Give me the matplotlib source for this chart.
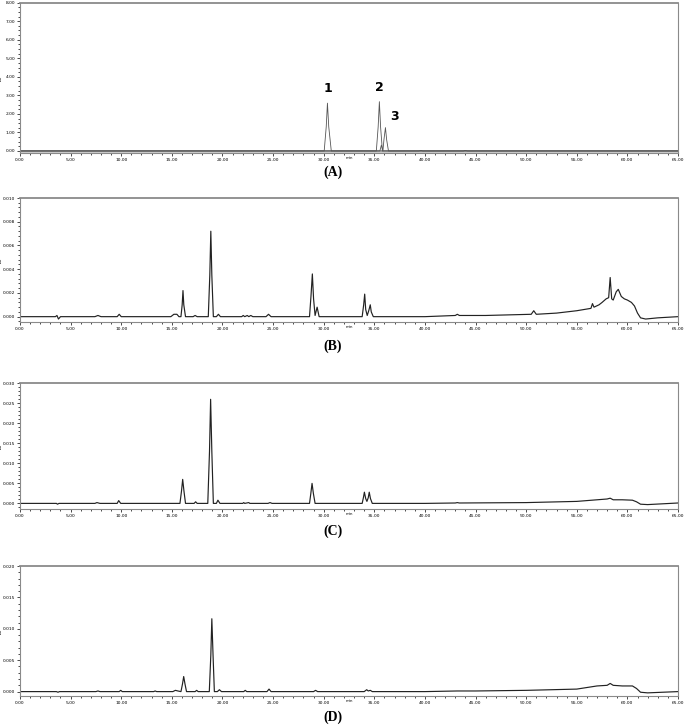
import numpy as np
import matplotlib.pyplot as plt
from matplotlib.ticker import MultipleLocator, FormatStrFormatter

# ---- data (time in min, absorbance in AU) ----
# (A) standards: three overlaid traces
tA1 = [0, 30.05, 30.25, 30.37, 30.5, 30.75, 65]
yA1 = [0, 0, 1.3, 2.58, 1.3, 0, 0]
tA2 = [0, 35.2, 35.38, 35.5, 35.62, 35.8, 39.4, 39.6, 39.8, 65]
yA2 = [0, 0, 1.3, 2.66, 1.3, 0, 0, 0.03, 0, 0]
tA3 = [0, 35.55, 35.7, 35.85, 35.95, 36.1, 36.22, 36.4, 43.8, 44.0, 44.2, 65]
yA3 = [0, 0, 0.32, 0, 0.6, 1.26, 0.6, 0, 0, 0.03, 0, 0]
peak_labels = ["1", "2", "3"]
peak_label_x = [30.4, 35.5, 37.0]
peak_label_y = [3.35, 3.4, 1.85]

tB = [0, 3.5, 3.65, 3.8, 4.0, 7.4, 7.7, 8.0, 9.6, 9.8, 10.0,
      14.9, 15.2, 15.5, 15.7, 15.9, 16.02, 16.1, 16.18, 16.35,
      17.1, 17.3, 17.5, 18.6, 18.75, 18.85, 18.95, 19.1,
      19.4, 19.6, 19.8, 21.9, 22.05, 22.2, 22.45, 22.6, 22.8, 23.0,
      24.3, 24.55, 24.8, 28.6, 28.75, 28.88, 29.0, 29.15, 29.35, 29.55,
      33.8, 33.95, 34.05, 34.15, 34.3, 34.45, 34.6, 34.7, 34.9,
      40.0, 43.0, 43.2, 43.4, 46.0, 50.5, 50.75, 51.0,
      53.0, 55.0, 56.4, 56.55, 56.7, 57.2, 57.5, 57.9, 58.15, 58.3, 58.45,
      58.6, 58.9, 59.1, 59.4, 59.7, 60.0, 60.4, 60.7, 61.0, 61.3, 61.8,
      63.0, 65.0]
yB = [0, 0, 0.0001, -0.0002, 0, 0, 0.0001, 0, 0, 0.0002, 0,
      0, 0.0002, 0.0002, 0, 0, 0.0010, 0.0022, 0.0010, 0,
      0, 0.0001, 0, 0, 0.0035, 0.0072, 0.0035, 0,
      0, 0.0002, 0, 0, 0.0001, 0, 0.0001, 0, 0.0001, 0,
      0, 0.0002, 0, 0, 0.0018, 0.0036, 0.0015, 0.0001, 0.0008, 0,
      0, 0.0010, 0.0019, 0.0006, 0.0001, 0.0005, 0.0010, 0.0004, 0,
      0, 0.0001, 0.0002, 0.0001, 0.0001, 0.0002, 0.0005, 0.0002,
      0.0003, 0.0005, 0.0007, 0.0011, 0.0008, 0.0010, 0.0012, 0.0015, 0.0016, 0.0033, 0.0015,
      0.0014, 0.0021, 0.0023, 0.0017, 0.0015, 0.0014, 0.0012, 0.0009, 0.0003, -0.0001, -0.0002,
      -0.0001, 0]

tC = [0, 3.6, 3.7, 3.85, 7.4, 7.6, 7.9, 9.6, 9.75, 9.95,
      15.8, 15.95, 16.07, 16.2, 16.35, 17.2, 17.35, 17.5,
      18.55, 18.72, 18.83, 18.95, 19.1, 19.4, 19.55, 19.75,
      22.0, 22.1, 22.2, 22.6, 22.7, 24.5, 24.7, 24.9,
      28.6, 28.73, 28.85, 28.98, 29.15,
      33.8, 33.92, 34.02, 34.15, 34.27, 34.4, 34.5, 34.62, 34.8,
      40, 43, 43.2, 43.4, 50, 55, 57, 58.0, 58.3, 58.6, 59.5, 60.5, 60.9, 61.3, 62, 65]
yC = [0, 0, -0.0002, 0, 0, 0.0002, 0, 0, 0.0007, 0,
      0, 0.003, 0.006, 0.003, 0, 0, 0.0004, 0,
      0, 0.013, 0.026, 0.013, 0, 0, 0.0008, 0,
      0, 0.0002, 0, 0.0002, 0, 0, 0.0002, 0,
      0, 0.0025, 0.005, 0.0025, 0,
      0, 0.0014, 0.0028, 0.0012, 0.0005, 0.0014, 0.0028, 0.0012, 0,
      0, 0.0001, 0.0002, 0.0001, 0.0002, 0.0005, 0.0009, 0.0011, 0.0013, 0.0009, 0.0009, 0.0008, 0.0004, -0.0002, -0.0003, 0.0001]

tD = [0, 3.6, 3.75, 3.9, 7.5, 7.7, 7.9, 9.8, 9.95, 10.1,
      13.2, 13.35, 13.5, 15.1, 15.35, 15.6, 15.9, 16.05, 16.17, 16.3, 16.45,
      17.3, 17.45, 17.6, 18.7, 18.85, 18.95, 19.07, 19.2, 19.5, 19.7, 19.9,
      22.1, 22.25, 22.4, 24.4, 24.6, 24.8, 29.0, 29.2, 29.4,
      34.0, 34.25, 34.4, 34.6, 34.8,
      40, 43.2, 45, 50, 55, 57, 58.0, 58.3, 58.6, 59.5, 60.5, 60.9, 61.3, 62, 65]
yD = [0, 0, -0.0001, 0, 0, 0.0001, 0, 0, 0.0002, 0,
      0, 0.0001, 0, 0, 0.0002, 0.0001, 0, 0.0012, 0.0024, 0.0012, 0,
      0, 0.0002, 0, 0, 0.0058, 0.0116, 0.0058, 0, 0, 0.0003, 0,
      0, 0.0002, 0, 0, 0.0004, 0, 0, 0.0002, 0,
      0, 0.0003, 0.0001, 0.0002, 0,
      0, 0.0001, 0.0001, 0.0002, 0.0004, 0.0009, 0.0010, 0.0013, 0.0010, 0.0009, 0.0009, 0.0005, -0.0001, -0.0002, 0]

panel_names = ["(A)", "(B)", "(C)", "(D)"]

W, H = 685, 725
fig = plt.figure(figsize=(W / 100, H / 100), dpi=100)


def make_axes(top, bottom):
    return fig.add_axes([20 / W, 1 - bottom / H, 658 / W, (bottom - top) / H])


def style(ax, ymin, ymax, ystep, yminor, yfmt):
    ax.set_xlim(0, 65)
    ax.set_ylim(ymin, ymax)
    ax.xaxis.set_major_locator(MultipleLocator(5))
    ax.xaxis.set_minor_locator(MultipleLocator(1))
    ax.yaxis.set_major_locator(MultipleLocator(ystep))
    ax.yaxis.set_minor_locator(MultipleLocator(yminor))
    ax.xaxis.set_major_formatter(FormatStrFormatter("%.2f"))
    ax.yaxis.set_major_formatter(FormatStrFormatter(yfmt))
    ax.tick_params(which="major", direction="out", length=2.5, width=0.5,
                   labelsize=3.2, pad=1)
    ax.tick_params(which="minor", direction="out", length=1.3, width=0.5)
    for s in ax.spines.values():
        s.set_color("#8a8a8a")
        s.set_linewidth(0.8)
    ax.spines["top"].set_linewidth(1.3)
    ax.set_xlabel("min", fontsize=2.8, labelpad=-4)
    ax.set_ylabel("AU", fontsize=2.8)
    ax.yaxis.set_label_coords(-0.026, 0.5)


# (A)
axA = make_axes(2.7, 153)
style(axA, -0.11, 8.0, 1, 0.25, "%.2f")
axA.axhspan(-0.11, 0.07, color="#cccccc", lw=0)
for t, y in [(tA1, yA1), (tA2, yA2), (tA3, yA3)]:
    axA.plot(t, y, color="#555555", lw=0.6)
for lab, x, y in zip(peak_labels, peak_label_x, peak_label_y):
    axA.text(x, y, lab, fontsize=9, fontweight="bold", ha="center", va="center")

# (B)
axB = make_axes(198, 322)
style(axB, -0.00045, 0.010, 0.002, 0.0004, "%.3f")
axB.plot(tB, yB, color="#222222", lw=0.85)

# (C)
axC = make_axes(383.3, 509)
style(axC, -0.0014, 0.030, 0.005, 0.001, "%.3f")
axC.plot(tC, yC, color="#222222", lw=0.85)

# (D)
axD = make_axes(566, 696)
style(axD, -0.0007, 0.020, 0.005, 0.001, "%.3f")
axD.plot(tD, yD, color="#222222", lw=0.85)

for name, yc in zip(panel_names, [172, 346, 531, 717]):
    fig.text(333 / W, 1 - yc / H, name, fontsize=10, fontweight="bold",
             family=["Liberation Serif", "DejaVu Serif"], ha="center", va="center")

fig.savefig("out.png", dpi=100)
